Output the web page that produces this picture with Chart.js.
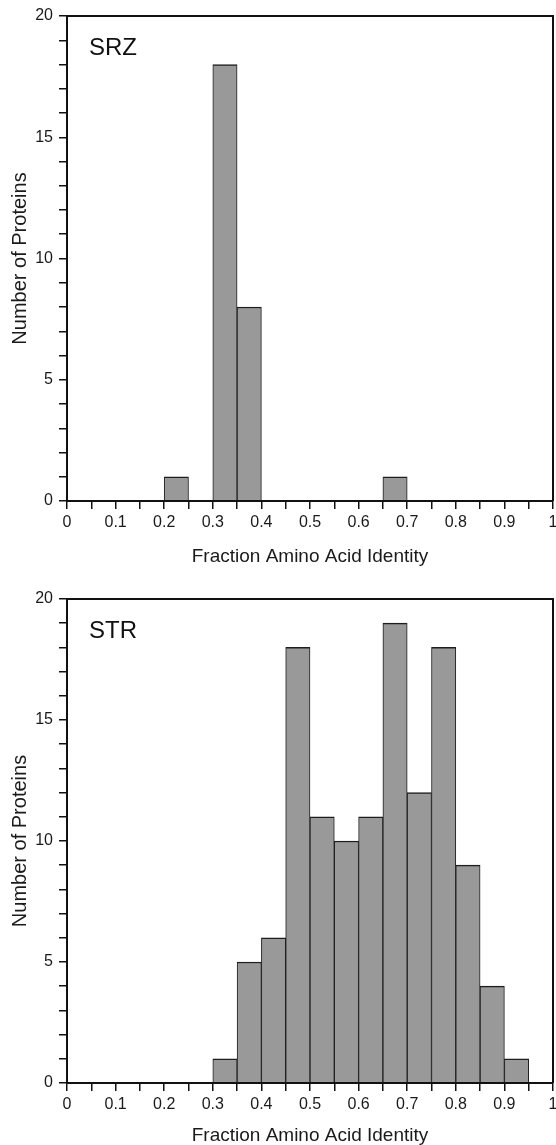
<!DOCTYPE html>
<html>
<head>
<meta charset="utf-8">
<script src="https://cdn.jsdelivr.net/npm/chart.js@4.4.0/dist/chart.umd.min.js"></script>
<style>
    html, body { margin: 0; padding: 0; background: #fff; overflow: hidden; }
    canvas { display: block; }
</style>
</head>
<body>
<canvas id="srzChart" width="556" height="583"></canvas>
<canvas id="strChart" width="556" height="562"></canvas>
<script>
// histogram bins: width 0.05 from 0 to 1
const binWidth = 0.05;
const binCount = 20;

// counts per bin (0-0.05, 0.05-0.10, ... 0.95-1.0)
const srzCounts = [0, 0, 0, 0, 1, 0, 18, 8, 0, 0, 0, 0, 0, 1, 0, 0, 0, 0, 0, 0];
const strCounts = [0, 0, 0, 0, 0, 0, 1, 5, 6, 18, 11, 10, 11, 19, 12, 18, 9, 4, 1, 0];

const xTickLabels = ['0', '0.1', '0.2', '0.3', '0.4', '0.5', '0.6', '0.7', '0.8', '0.9', '1'];
const yTickLabels = ['0', '5', '10', '15', '20'];

const xTitle = 'Fraction Amino Acid Identity';
const yTitle = 'Number of Proteins';

Chart.defaults.font.family = "'Liberation Sans', Arial, Helvetica, sans-serif";
Chart.defaults.color = '#1a1a1a';

// frame on top / right + panel label
const framePlugin = {
    id: 'frame',
    afterDraw(chart, args, opts) {
        const { ctx, chartArea } = chart;
        ctx.save();
        ctx.strokeStyle = '#111';
        ctx.lineWidth = 2;
        ctx.beginPath();
        ctx.moveTo(chartArea.left, chartArea.top);
        ctx.lineTo(chartArea.right, chartArea.top);
        ctx.lineTo(chartArea.right, chartArea.bottom);
        ctx.stroke();

        ctx.fillStyle = '#111';
        ctx.font = "24px 'Liberation Sans', Arial, sans-serif";
        ctx.textBaseline = 'alphabetic';
        ctx.fillText(opts.label, chartArea.left + 22, chartArea.top + 39);
        ctx.restore();
    }
};

function makeHistogram(canvasId, label, counts, xAxisHeight, titlePad) {
    const data = counts.map((c, i) => ({ x: binWidth * i + binWidth / 2, y: c }));

    return new Chart(document.getElementById(canvasId), {
        type: 'bar',
        data: {
            datasets: [{
                data,
                backgroundColor: '#999999',
                borderColor: '#1e1e1e',
                borderWidth: { top: 1.5, left: 1, right: 1, bottom: 0 },
                borderSkipped: 'start',
                barPercentage: 1,
                categoryPercentage: 1
            }]
        },
        options: {
            responsive: false,
            animation: false,
            layout: { padding: { top: 16, right: 3, left: 0, bottom: 0 } },
            plugins: {
                legend: { display: false },
                tooltip: { enabled: false },
                frame: { label }
            },
            scales: {
                x: {
                    type: 'linear',
                    min: 0,
                    max: 1,
                    offset: false,
                    afterFit: s => {
                        s.height = xAxisHeight;
                        s.paddingLeft = 0;
                        s.paddingRight = 0;
                    },
                    grid: { offset: false, drawOnChartArea: false, drawTicks: true, tickLength: 8, color: '#111', lineWidth: 1.5 },
                    border: { display: true, color: '#111', width: 2, z: 1 },
                    ticks: {
                        stepSize: binWidth,
                        autoSkip: false,
                        maxRotation: 0,
                        padding: 4,
                        font: { size: 16 },
                        callback: (v, i) => (i % 2 === 0 ? xTickLabels[i / 2] : '')
                    },
                    title: {
                        display: true,
                        text: xTitle,
                        font: { size: 19, lineHeight: 1 },
                        padding: { top: 0, bottom: titlePad }
                    }
                },
                y: {
                    min: 0,
                    max: 20,
                    afterFit: s => { s.width = 67; },
                    grid: { drawOnChartArea: false, drawTicks: true, tickLength: 8, color: '#111', lineWidth: 1.5 },
                    border: { display: true, color: '#111', width: 2, z: 1 },
                    ticks: {
                        stepSize: 1,
                        autoSkip: false,
                        padding: 6,
                        font: { size: 16 },
                        callback: (v, i) => (i % 5 === 0 ? yTickLabels[i / 5] : '')
                    },
                    title: {
                        display: true,
                        text: yTitle,
                        font: { size: 20, lineHeight: 1 },
                        padding: { top: 10, bottom: 0 }
                    }
                }
            }
        },
        plugins: [framePlugin]
    });
}

makeHistogram('srzChart', 'SRZ', srzCounts, 82, 16.5);
makeHistogram('strChart', 'STR', strCounts, 62, 0);
</script>
</body>
</html>
